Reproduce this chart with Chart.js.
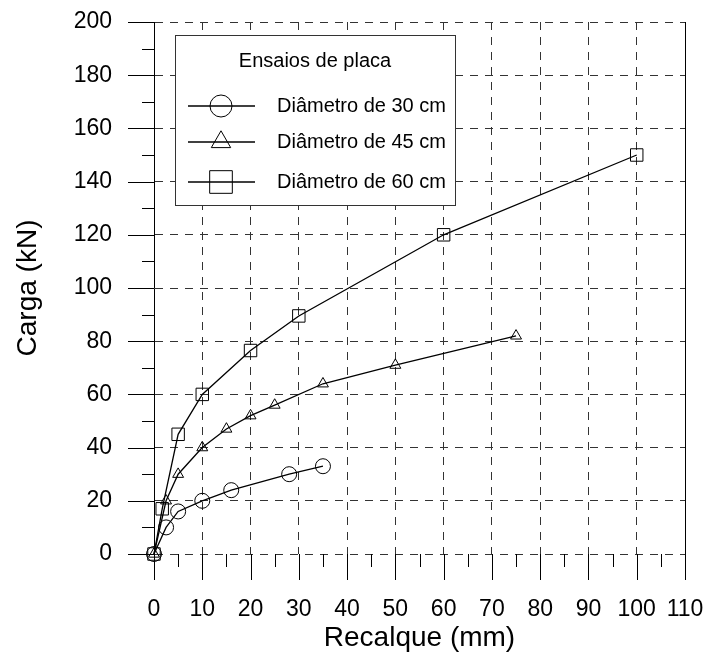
<!DOCTYPE html>
<html>
<head>
<meta charset="utf-8">
<script src="https://cdn.jsdelivr.net/npm/chart.js@4/dist/chart.umd.min.js"></script>
<style>
  html, body { margin: 0; padding: 0; background: #fff; }
  canvas { display: block; }
</style>
</head>
<body>
<canvas id="chart" width="709" height="655"></canvas>
<script>
// valores (recalque em mm, carga em kN)
const legendTitle = "Ensaios de placa";
const seriesNames = ["Diâmetro de 30 cm", "Diâmetro de 45 cm", "Diâmetro de 60 cm"];
const pointStyles = ["circle", "triangle", "rect"];
const pointSizes = [7.5, 6.3, 8.8];

const recalque30 = [0, 2.5, 5, 10, 16, 28, 35];
const carga30 = [0, 10, 16, 20, 24, 30, 33];

const recalque45 = [0, 2.5, 5, 10, 15, 20, 25, 35, 50, 75];
const carga45 = [0, 20, 30, 40, 47, 52, 56, 64, 71, 82];

const recalque60 = [0, 1.7, 5, 10, 20, 30, 60, 100];
const carga60 = [0, 17, 45, 60, 76.5, 89.5, 120, 150];

const xTickValues = [0, 10, 20, 30, 40, 50, 60, 70, 80, 90, 100, 110];
const xMinorTicks = [5, 15, 25, 35, 45, 55, 65, 75, 85, 95, 105];
const yTickValues = [0, 20, 40, 60, 80, 100, 120, 140, 160, 180, 200];
const yMinorTicks = [10, 30, 50, 70, 90, 110, 130, 150, 170, 190];

const FONT = "Arial, 'Liberation Sans', sans-serif";

const toPoints = (xs, ys) => xs.map((v, i) => ({ x: v, y: ys[i] }));

const makeDataset = (i, xs, ys) => ({
  label: seriesNames[i],
  data: toPoints(xs, ys),
  borderColor: "#000",
  borderWidth: 1.3,
  backgroundColor: "rgba(0,0,0,0)",
  pointStyle: pointStyles[i],
  pointRadius: pointSizes[i],
  pointHoverRadius: pointSizes[i],
  pointBorderColor: "#000",
  pointBorderWidth: 1,
  pointBackgroundColor: "rgba(0,0,0,0)",
  tension: 0,
  clip: false,
});

// sem folga extra das escalas: a área do gráfico fica só com o padding do layout
const noScalePadding = s => {
  s.paddingTop = 0; s.paddingBottom = 0; s.paddingLeft = 0; s.paddingRight = 0;
};

// marcas de escala, borda direita e legenda em caixa
const decorations = {
  id: "decorations",
  afterDraw(chart) {
    const { ctx, chartArea: a, scales: { x, y } } = chart;
    ctx.save();
    ctx.strokeStyle = "#000";
    ctx.lineWidth = 1;
    ctx.setLineDash([]);
    ctx.beginPath();
    xTickValues.forEach(v => {
      const px = Math.round(x.getPixelForValue(v)) + 0.5;
      ctx.moveTo(px, a.bottom); ctx.lineTo(px, a.bottom + 26);
    });
    xMinorTicks.forEach(v => {
      const px = Math.round(x.getPixelForValue(v)) + 0.5;
      ctx.moveTo(px, a.bottom); ctx.lineTo(px, a.bottom + 13);
    });
    yTickValues.forEach(v => {
      const py = Math.round(y.getPixelForValue(v)) + 0.5;
      ctx.moveTo(a.left - 26, py); ctx.lineTo(a.left, py);
    });
    yMinorTicks.forEach(v => {
      const py = Math.round(y.getPixelForValue(v)) + 0.5;
      ctx.moveTo(a.left - 12, py); ctx.lineTo(a.left, py);
    });
    const rx = Math.round(x.getPixelForValue(x.max)) + 0.5;
    ctx.moveTo(rx, a.top); ctx.lineTo(rx, a.bottom);
    ctx.stroke();

    // legenda
    const bx = a.left + 21, by = a.top + 13, bw = 280, bh = 170;
    ctx.fillStyle = "#fff";
    ctx.fillRect(bx, by, bw, bh);
    ctx.strokeStyle = "#333";
    ctx.strokeRect(bx + 0.5, by + 0.5, bw, bh);

    ctx.fillStyle = "#000";
    ctx.font = "20px " + FONT;
    ctx.textBaseline = "middle";
    ctx.textAlign = "center";
    ctx.fillText(legendTitle, bx + 140, by + 26);

    const rowY = [by + 71, by + 107, by + 147];
    const legendSizes = [11, 11.2, 16];
    chart.data.datasets.forEach((ds, i) => {
      const ly = rowY[i];
      ctx.strokeStyle = "#000";
      ctx.lineWidth = 1.3;
      ctx.beginPath();
      ctx.moveTo(bx + 13, ly); ctx.lineTo(bx + 80, ly);
      ctx.stroke();
      ctx.lineWidth = 1;
      ctx.fillStyle = "rgba(0,0,0,0)";
      Chart.helpers.drawPoint(ctx, { pointStyle: ds.pointStyle, radius: legendSizes[i], rotation: 0, borderWidth: 1 }, bx + 46, ly);
      ctx.fillStyle = "#000";
      ctx.textAlign = "left";
      ctx.fillText(ds.label, bx + 102, ly);
    });
    ctx.restore();
  }
};

new Chart(document.getElementById("chart"), {
  type: "line",
  data: {
    datasets: [
      makeDataset(0, recalque30, carga30),
      makeDataset(1, recalque45, carga45),
      makeDataset(2, recalque60, carga60),
    ],
  },
  options: {
    responsive: false,
    animation: false,
    layout: { padding: { top: 22, right: 24, bottom: 0, left: 0 } },
    plugins: { legend: { display: false }, tooltip: { enabled: false } },
    scales: {
      x: {
        type: "linear",
        min: 0,
        max: 110,
        afterFit: s => { s.height = 101; noScalePadding(s); },
        afterBuildTicks: s => { s.ticks = xTickValues.map(v => ({ value: v })); },
        ticks: { color: "#000", font: { family: FONT, size: 23 }, padding: 42, maxRotation: 0, autoSkip: false },
        grid: { color: "#333", lineWidth: 1, drawTicks: false },
        border: { display: false, dash: [8, 7] },
        title: { display: true, text: "Recalque (mm)", color: "#000", font: { family: FONT, size: 28, lineHeight: 1 }, padding: { top: 0, bottom: 3 } },
      },
      y: {
        type: "linear",
        min: 0,
        max: 200,
        afterFit: s => { s.width = 154; noScalePadding(s); },
        afterBuildTicks: s => { s.ticks = yTickValues.map(v => ({ value: v })); },
        ticks: { color: "#000", font: { family: FONT, size: 23 }, padding: 42, autoSkip: false },
        grid: { color: "#333", lineWidth: 1, drawTicks: false },
        border: { display: true, color: "#000", width: 1, dash: [8, 7] },
        title: { display: true, text: "Carga (kN)", color: "#000", font: { family: FONT, size: 28, lineHeight: 1 }, padding: { top: 14, bottom: 0 } },
      },
    },
  },
  plugins: [decorations],
});
</script>
</body>
</html>
